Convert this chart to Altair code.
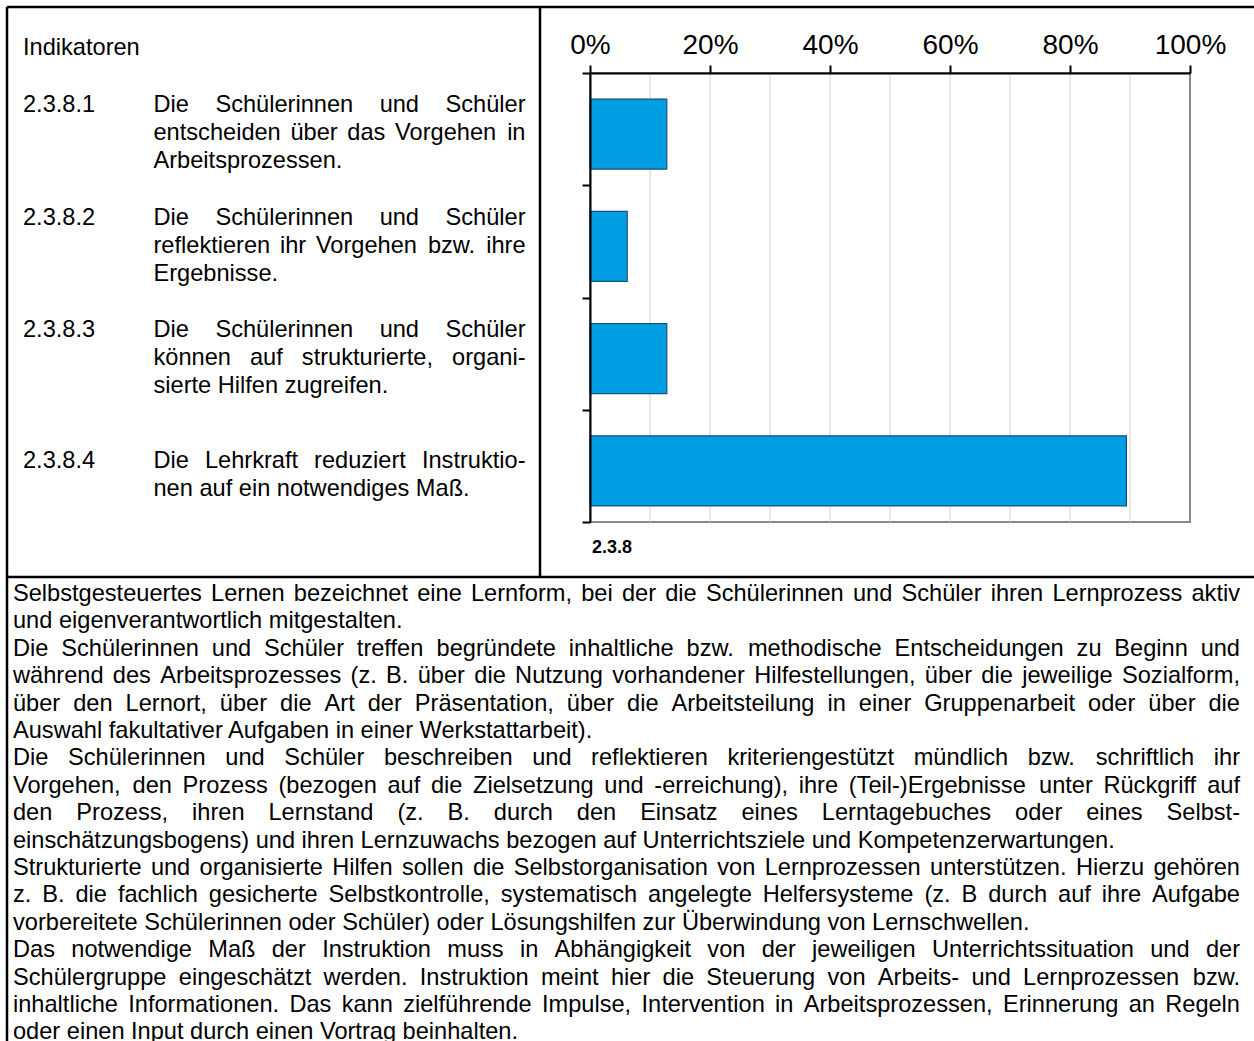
import altair as alt
import pandas as pd

# ---------------- data ----------------
indicators = ["2.3.8.1", "2.3.8.2", "2.3.8.3", "2.3.8.4"]
shares = [12.8, 6.2, 12.8, 89.4]          # percent
x_tick_values = [0, 20, 40, 60, 80, 100]
grid_values = [10, 20, 30, 40, 50, 60, 70, 80, 90]
group_label = "2.3.8"
header_text = "Indikatoren"

indicator_lines = [
    ["Die Schülerinnen und Schüler", "entscheiden über das Vorgehen in", "Arbeitsprozessen."],
    ["Die Schülerinnen und Schüler", "reflektieren ihr Vorgehen bzw. ihre", "Ergebnisse."],
    ["Die Schülerinnen und Schüler", "können auf strukturierte, organi-", "sierte Hilfen zugreifen."],
    ["Die Lehrkraft reduziert Instruktio-", "nen auf ein notwendiges Maß."],
]

body_lines = [
    "Selbstgesteuertes Lernen bezeichnet eine Lernform, bei der die Schülerinnen und Schüler ihren Lernprozess aktiv",
    "und eigenverantwortlich mitgestalten.",
    "Die Schülerinnen und Schüler treffen begründete inhaltliche bzw. methodische Entscheidungen zu Beginn und",
    "während des Arbeitsprozesses (z. B. über die Nutzung vorhandener Hilfestellungen, über die jeweilige Sozialform,",
    "über den Lernort, über die Art der Präsentation, über die Arbeitsteilung in einer Gruppenarbeit oder über die",
    "Auswahl fakultativer Aufgaben in einer Werkstattarbeit).",
    "Die Schülerinnen und Schüler beschreiben und reflektieren kriteriengestützt mündlich bzw. schriftlich ihr",
    "Vorgehen, den Prozess (bezogen auf die Zielsetzung und -erreichung), ihre (Teil-)Ergebnisse unter Rückgriff auf",
    "den Prozess, ihren Lernstand (z. B. durch den Einsatz eines Lerntagebuches oder eines Selbst-",
    "einschätzungsbogens) und ihren Lernzuwachs bezogen auf Unterrichtsziele und Kompetenzerwartungen.",
    "Strukturierte und organisierte Hilfen sollen die Selbstorganisation von Lernprozessen unterstützen. Hierzu gehören",
    "z. B. die fachlich gesicherte Selbstkontrolle, systematisch angelegte Helfersysteme (z. B durch auf ihre Aufgabe",
    "vorbereitete Schülerinnen oder Schüler) oder Lösungshilfen zur Überwindung von Lernschwellen.",
    "Das notwendige Maß der Instruktion muss in Abhängigkeit von der jeweiligen Unterrichtssituation und der",
    "Schülergruppe eingeschätzt werden. Instruktion meint hier die Steuerung von Arbeits- und Lernprozessen bzw.",
    "inhaltliche Informationen. Das kann zielführende Impulse, Intervention in Arbeitsprozessen, Erinnerung an Regeln",
    "oder einen Input durch einen Vortrag beinhalten.",
]
body_paragraph_end = [1, 5, 9, 12, 16]   # lines that are not justified

# ---------------- layout ----------------
FONT = "Liberation Sans"
FS = 23.6
CANVAS_W, CANVAS_H = 1254, 1041
PX0, PY0 = 590, 73           # plot origin on the page
PW, PH = 600, 449            # plot size

# Arial / Liberation Sans advance widths (1/1000 em)
_w = {' ': 278, '.': 278, ',': 278, '-': 333, '(': 333, ')': 333, '%': 889, ':': 278,
      'A': 667, 'B': 667, 'C': 722, 'D': 722, 'E': 667, 'F': 611, 'G': 778, 'H': 722, 'I': 278,
      'J': 500, 'K': 667, 'L': 556, 'M': 833, 'N': 722, 'O': 778, 'P': 667, 'Q': 778, 'R': 722,
      'S': 667, 'T': 611, 'U': 722, 'V': 667, 'W': 944, 'X': 667, 'Y': 667, 'Z': 611,
      'a': 556, 'b': 556, 'c': 500, 'd': 556, 'e': 556, 'f': 278, 'g': 556, 'h': 556, 'i': 222,
      'j': 222, 'k': 500, 'l': 222, 'm': 833, 'n': 556, 'o': 556, 'p': 556, 'q': 556, 'r': 333,
      's': 500, 't': 278, 'u': 556, 'v': 500, 'w': 722, 'x': 500, 'y': 500, 'z': 500,
      'ä': 556, 'ö': 556, 'ü': 556, 'Ä': 667, 'Ö': 778, 'Ü': 722, 'ß': 611}


def text_width(s, size=FS):
    return sum(_w.get(c, 556) for c in s) * size / 1000.0


def layout_line(text, y, left, right, justify, rows):
    words = text.split(' ')
    if justify and len(words) > 1:
        widths = [text_width(w) for w in words]
        gap = (right - left - sum(widths)) / (len(words) - 1)
        x = left
        for i, (w, wd) in enumerate(zip(words, widths)):
            if i == len(words) - 1:
                rows.append(dict(px=right - PX0, py=y - PY0, t=w, al="right"))
            else:
                rows.append(dict(px=x - PX0, py=y - PY0, t=w, al="left"))
            x += wd + gap
    else:
        rows.append(dict(px=left - PX0, py=y - PY0, t=text, al="left"))


rows = []
# header of the left column
rows.append(dict(px=23 - PX0, py=48 - PY0, t=header_text, al="left"))
block_tops = [105, 218, 330, 461]
LINE_L = 28
for ind, lines, top in zip(indicators, indicator_lines, block_tops):
    rows.append(dict(px=23 - PX0, py=top - PY0, t=ind, al="left"))
    for k, ln in enumerate(lines):
        layout_line(ln, top + k * LINE_L, 153.5, 525.5, k < len(lines) - 1, rows)

# body text below the table row
BODY_TOP, BODY_STEP = 594, 27.4
for i, ln in enumerate(body_lines):
    layout_line(ln, BODY_TOP + i * BODY_STEP, 13, 1240, i not in body_paragraph_end, rows)

words = pd.DataFrame(rows)

# table borders (page coords -> plot coords)
borders = pd.DataFrame([
    dict(x1=7, x2=CANVAS_W, y1=7, y2=7),
    dict(x1=7, x2=7, y1=7, y2=CANVAS_H),
    dict(x1=540, x2=540, y1=7, y2=577),
    dict(x1=7, x2=CANVAS_W, y1=577, y2=577),
])
for c in ["x1", "x2"]:
    borders[c] = borders[c] - PX0
for c in ["y1", "y2"]:
    borders[c] = borders[c] - PY0

bars_df = pd.DataFrame({"ind": indicators, "pct": shares})
grid_df = pd.DataFrame({"pct": grid_values})
group_df = pd.DataFrame({"px": [2], "py": [548 - PY0], "t": [group_label]})

# ---------------- chart ----------------
x_scale = alt.Scale(domain=[0, 100], nice=False, zero=True)
x_axis = alt.Axis(orient="top", values=x_tick_values, labelExpr="datum.value + '%'",
                  grid=False, title=None, tickSize=8, tickWidth=2, tickColor="black",
                  domainColor="black", domainWidth=2, labelFont=FONT, labelFontSize=28,
                  labelColor="black", labelPadding=6, labelFlush=False, labelOverlap=False,
                  zindex=1)
X = alt.X("pct:Q", scale=x_scale, axis=x_axis)

grid = alt.Chart(grid_df).mark_rule(color="#d4d4d4", strokeWidth=1).encode(
    x=X, y=alt.value(0), y2=alt.value(PH)
)

bars = alt.Chart(bars_df).mark_bar(
    height={"band": 0.624}, yOffset=5, fill="#009FE3", stroke="#1B4F7F", strokeWidth=1.2
).encode(
    x=X,
    y=alt.Y("ind:N", sort=None, scale=alt.Scale(paddingInner=0, paddingOuter=0),
            axis=alt.Axis(labels=False, title=None, tickBand="extent", tickSize=8,
                          tickWidth=2, tickColor="black", domainColor="black",
                          domainWidth=2, zindex=1)),
)

frame = alt.Chart(borders).mark_rule(color="black", strokeWidth=2.5).encode(
    x=alt.X("x1:Q", scale=None, axis=None), x2="x2:Q",
    y=alt.Y("y1:Q", scale=None, axis=None), y2="y2:Q",
)

def word_layer(align):
    return alt.Chart(words[words["al"] == align]).mark_text(
        align=align, baseline="middle", font=FONT, fontSize=FS, color="black"
    ).encode(
        x=alt.X("px:Q", scale=None, axis=None),
        y=alt.Y("py:Q", scale=None, axis=None),
        text="t:N",
    )

group_txt = alt.Chart(group_df).mark_text(
    align="left", baseline="middle", font=FONT, fontSize=18, fontWeight="bold", color="black"
).encode(
    x=alt.X("px:Q", scale=None, axis=None),
    y=alt.Y("py:Q", scale=None, axis=None),
    text="t:N",
)

chart = alt.layer(grid, bars, frame, word_layer("left"), word_layer("right"), group_txt).properties(
    width=PW, height=PH,
    autosize=alt.AutoSizeParams(type="none"),
    padding={"left": PX0, "top": PY0, "right": CANVAS_W - PX0 - PW, "bottom": CANVAS_H - PY0 - PH},
    background="white",
).configure_view(stroke="#8a8a8a", strokeWidth=2)

chart.save("out.html", embed_options={"renderer": "svg", "actions": False})
